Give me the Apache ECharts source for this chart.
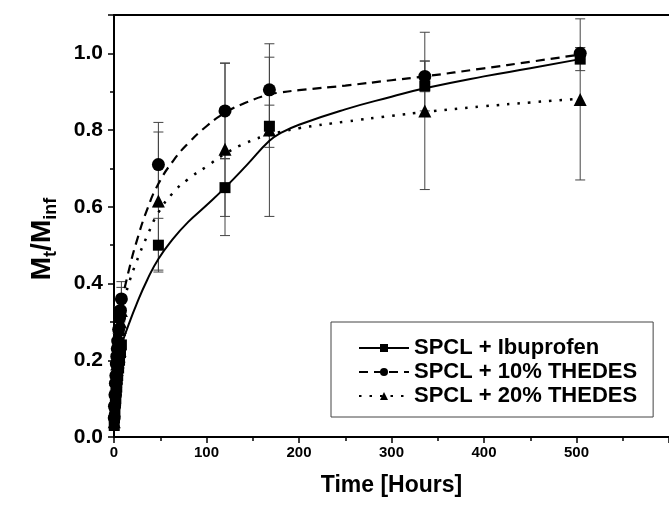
<!DOCTYPE html>
<html>
<head>
<meta charset="utf-8">
<script src="https://cdn.jsdelivr.net/npm/echarts@6/dist/echarts.min.js"></script>
<style>html,body{margin:0;padding:0;background:#fff}#c{width:669px;height:505px}</style>
</head>
<body>
<div id="c"></div>
<script>
// ---- data ----
var time = [0.25, 0.5, 1, 1.5, 2, 2.5, 3, 3.5, 4, 5, 6, 7, 8, 48, 120, 168, 336, 504];
var ibuVal = [0.03, 0.05, 0.07, 0.09, 0.10, 0.12, 0.13, 0.15, 0.16, 0.18, 0.20, 0.22, 0.24, 0.50, 0.65, 0.81, 0.915, 0.985];
var ibuErr = [0.01, 0.01, 0.01, 0.015, 0.015, 0.015, 0.02, 0.02, 0.02, 0.02, 0.02, 0.025, 0.03, 0.07, 0.075, 0.055, 0.065, 0.03];
var t10Val = [0.05, 0.08, 0.11, 0.14, 0.16, 0.19, 0.21, 0.23, 0.25, 0.28, 0.31, 0.33, 0.36, 0.71, 0.85, 0.905, 0.94, 1.0];
var t10Err = [0.01, 0.01, 0.015, 0.015, 0.015, 0.02, 0.02, 0.02, 0.02, 0.025, 0.03, 0.03, 0.045, 0.11, 0.124, 0.085, 0.04, 0.015];
var t20Val = [0.04, 0.07, 0.10, 0.12, 0.15, 0.17, 0.19, 0.21, 0.23, 0.26, 0.28, 0.30, 0.33, 0.615, 0.75, 0.80, 0.85, 0.88];
var t20Err = [0.01, 0.01, 0.01, 0.015, 0.015, 0.015, 0.02, 0.02, 0.02, 0.02, 0.025, 0.03, 0.06, 0.18, 0.225, 0.225, 0.205, 0.21];

// fitted curves
var curveT   = [8, 16, 24, 36, 48, 64, 80, 100, 120, 144, 168, 180, 200, 250, 300, 336, 400, 450, 504];
var ibuCurve = [0.24, 0.294, 0.344, 0.41, 0.464, 0.517, 0.56, 0.604, 0.65, 0.71, 0.772, 0.792, 0.814, 0.854, 0.887, 0.909, 0.94, 0.961, 0.985];
var t10Curve = [0.35, 0.434, 0.506, 0.594, 0.66, 0.72, 0.765, 0.81, 0.845, 0.873, 0.893, 0.898, 0.904, 0.916, 0.93, 0.94, 0.961, 0.978, 0.997];
var t20Curve = [0.33, 0.40, 0.455, 0.525, 0.585, 0.637, 0.672, 0.705, 0.738, 0.768, 0.788, 0.795, 0.805, 0.822, 0.837, 0.847, 0.862, 0.872, 0.882];

var names = ['SPCL + Ibuprofen', 'SPCL + 10% THEDES', 'SPCL + 20% THEDES'];
var xTicks = [0, 100, 200, 300, 400, 500];
var yTicks = [0.0, 0.2, 0.4, 0.6, 0.8, 1.0];

var FONT = 'Arial, "Liberation Sans", sans-serif';

function pts(vals) { return time.map(function (t, i) { return [t, vals[i]]; }); }
function errs(vals, e) { return time.map(function (t, i) { return [t, vals[i] - e[i], vals[i] + e[i]]; }); }
function curve(vals) { return curveT.map(function (t, i) { return [t, vals[i]]; }); }

function errRender(params, api) {
  var x = api.value(0);
  var lo = api.coord([x, api.value(1)]);
  var hi = api.coord([x, api.value(2)]);
  var hw = 5;
  var st = { stroke: '#444', lineWidth: 1 };
  return {
    type: 'group',
    children: [
      { type: 'line', shape: { x1: lo[0], y1: lo[1], x2: hi[0], y2: hi[1] }, style: st },
      { type: 'line', shape: { x1: lo[0] - hw, y1: lo[1], x2: lo[0] + hw, y2: lo[1] }, style: st },
      { type: 'line', shape: { x1: hi[0] - hw, y1: hi[1], x2: hi[0] + hw, y2: hi[1] }, style: st }
    ]
  };
}

var chart = echarts.init(document.getElementById('c'));
var option = {
  animation: false,
  backgroundColor: '#fff',
  grid: { left: 114, top: 15, right: -2, bottom: 68, containLabel: false },
  legend: {
    data: names,
    orient: 'vertical',
    left: 331, top: 322,
    padding: [15, 16, 10, 27],
    itemWidth: 50, itemHeight: 10, itemGap: 2,
    borderColor: '#444', borderWidth: 1, backgroundColor: '#fff',
    textStyle: { fontFamily: FONT, fontSize: 22, fontWeight: 'bold', color: '#000', lineHeight: 21 }
  },
  xAxis: [{
    type: 'value', min: 0, max: 600, interval: 100,
    name: 'Time [Hours]', nameLocation: 'middle', nameGap: 37,
    nameTextStyle: { fontFamily: FONT, fontSize: 23, fontWeight: 'bold', color: '#000' },
    axisLine: { show: true, lineStyle: { color: '#000', width: 2 } },
    axisTick: { show: true, inside: false, length: 6, lineStyle: { color: '#000', width: 1.5 } },
    minorTick: { show: true, splitNumber: 2, length: 4, lineStyle: { color: '#000', width: 1.5 } },
    splitLine: { show: false },
    axisLabel: {
      showMaxLabel: false, margin: 8, fontFamily: FONT, fontSize: 15, fontWeight: 'bold', color: '#000',
      formatter: function (v) { return xTicks.indexOf(v) >= 0 ? String(v) : ''; }
    }
  }, {
    type: 'value', position: 'top', min: 0, max: 600,
    axisLine: { show: true, lineStyle: { color: '#000', width: 2 } },
    axisTick: { show: false }, axisLabel: { show: false }, splitLine: { show: false }
  }],
  yAxis: {
    type: 'value', min: 0, max: 1.1, interval: 0.2,
    name: '{a|M}{b|t}{a|/M}{b|inf}', nameLocation: 'middle', nameGap: 54, nameRotate: 90,
    nameTextStyle: {
      color: '#000',
      padding: [0, 26, 0, 0],
      rich: {
        a: { fontFamily: FONT, fontSize: 28, fontWeight: 'bold', color: '#000', lineHeight: 32, verticalAlign: 'top' },
        b: { fontFamily: FONT, fontSize: 18, fontWeight: 'bold', color: '#000', lineHeight: 15, verticalAlign: 'bottom' }
      }
    },
    axisLine: { show: true, lineStyle: { color: '#000', width: 2 } },
    axisTick: { show: true, inside: false, length: 6, lineStyle: { color: '#000', width: 1.5 } },
    minorTick: { show: true, splitNumber: 2, length: 4, lineStyle: { color: '#000', width: 1.5 } },
    splitLine: { show: false },
    axisLabel: {
      showMaxLabel: false, margin: 11, fontFamily: FONT, fontSize: 21, fontWeight: 'bold', color: '#000',
      formatter: function (v) { return v.toFixed(1); }
    }
  },
  series: [
    { type: 'custom', name: 'e1', renderItem: errRender, data: errs(ibuVal, ibuErr), encode: { x: 0, y: [1, 2] }, z: 1, silent: true },
    { type: 'custom', name: 'e2', renderItem: errRender, data: errs(t10Val, t10Err), encode: { x: 0, y: [1, 2] }, z: 1, silent: true },
    { type: 'custom', name: 'e3', renderItem: errRender, data: errs(t20Val, t20Err), encode: { x: 0, y: [1, 2] }, z: 1, silent: true },
    { type: 'line', name: names[0], data: curve(ibuCurve), smooth: 0.5, showSymbol: false, symbol: 'rect',
      lineStyle: { color: '#000', width: 2, type: 'solid' }, itemStyle: { color: '#000' }, z: 2 },
    { type: 'line', name: names[1], data: curve(t10Curve), smooth: 0.5, showSymbol: false, symbol: 'circle',
      lineStyle: { color: '#000', width: 2.2, type: [9, 6] }, itemStyle: { color: '#000' }, z: 2 },
    { type: 'line', name: names[2], data: curve(t20Curve), smooth: 0.5, showSymbol: false, symbol: 'triangle',
      lineStyle: { color: '#000', width: 2.5, type: [2.5, 8] }, itemStyle: { color: '#000' }, z: 2 },
    { type: 'scatter', name: 'p1', data: pts(ibuVal), symbol: 'rect', symbolSize: 11, itemStyle: { color: '#000', opacity: 1 }, z: 3 },
    { type: 'scatter', name: 'p2', data: pts(t10Val), symbol: 'circle', symbolSize: 13, itemStyle: { color: '#000', opacity: 1 }, z: 3 },
    { type: 'scatter', name: 'p3', data: pts(t20Val), symbol: 'triangle', symbolSize: 13, itemStyle: { color: '#000', opacity: 1 }, z: 3 }
  ]
};
chart.setOption(option);
</script>
</body>
</html>
